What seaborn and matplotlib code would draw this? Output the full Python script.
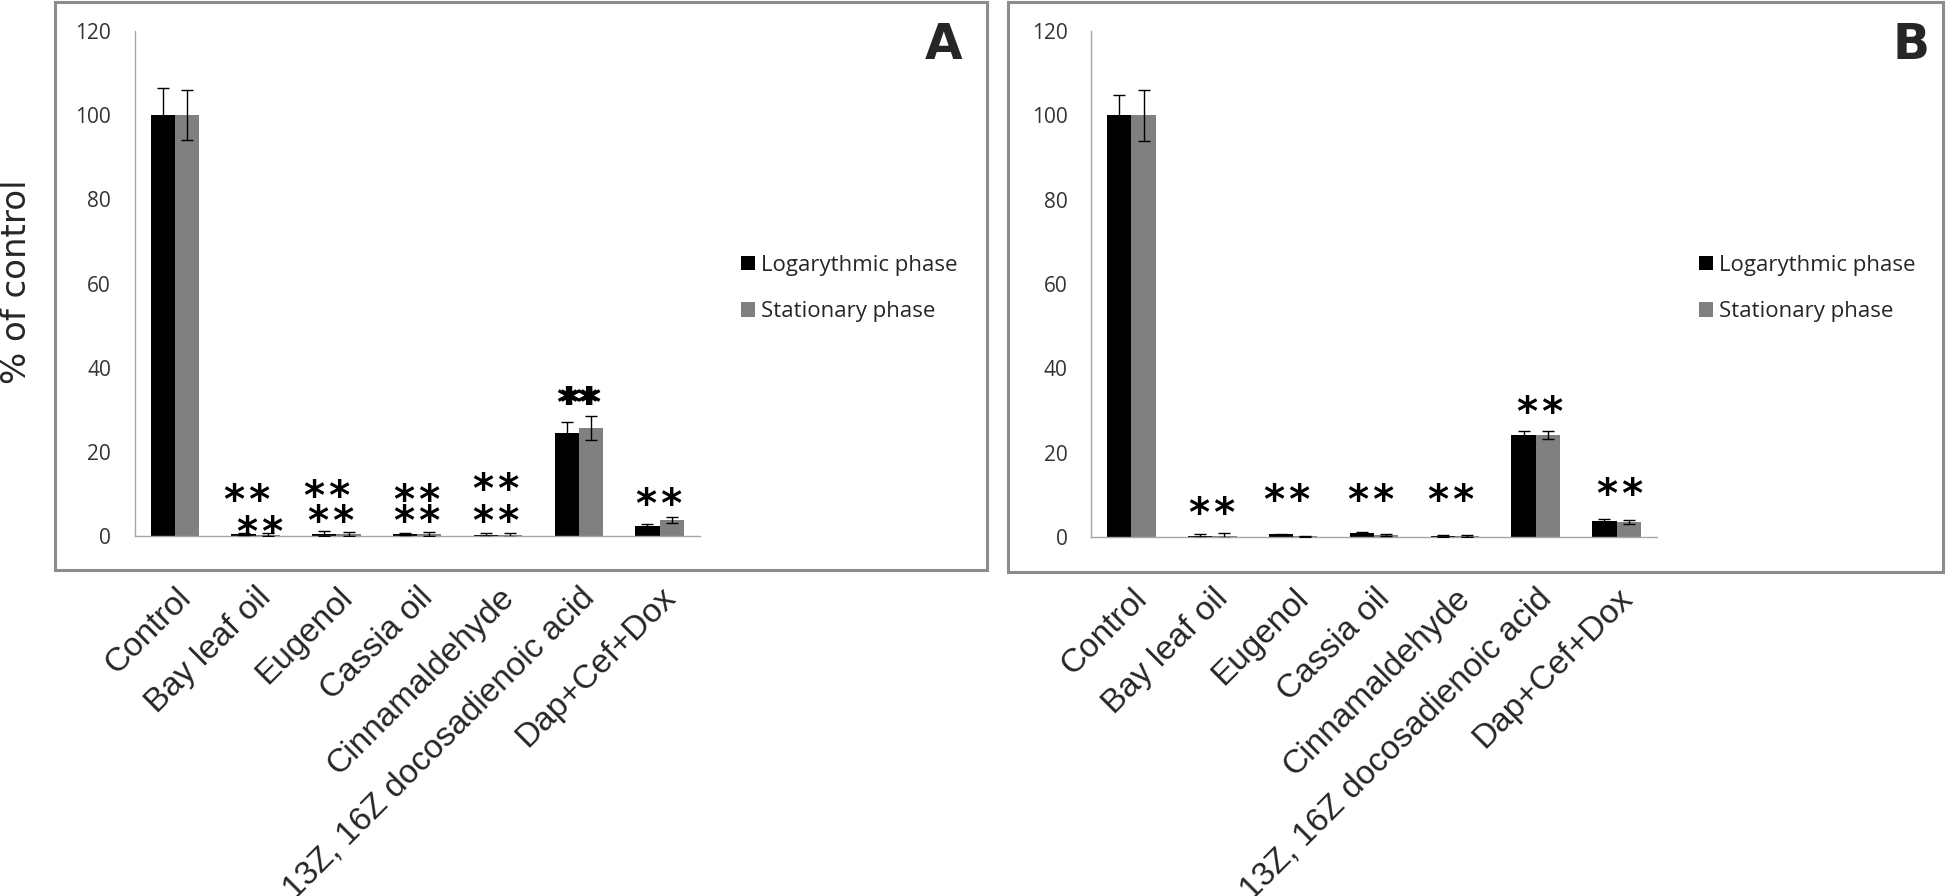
import numpy as np
import pandas as pd
import matplotlib
matplotlib.use("Agg")
import matplotlib.pyplot as plt
import matplotlib.transforms as mtransforms
from matplotlib.patches import Patch, Rectangle
import seaborn as sns

# ---------------- data ----------------
categories = ["Control", "Bay leaf oil", "Eugenol", "Cassia oil", "Cinnamaldehyde",
              "13Z, 16Z docosadienoic acid", "Dap+Cef+Dox"]
phases = ["Logarythmic phase", "Stationary phase"]

a_log = [100, 0.5, 0.5, 0.5, 0.2, 24.5, 2.4]
a_log_err = [6.5, 0.2, 0.6, 0.2, 0.5, 2.7, 0.45]
a_stat = [100, 0.3, 0.5, 0.5, 0.3, 25.7, 3.8]
a_stat_err = [5.9, 0.3, 0.4, 0.5, 0.5, 2.9, 0.6]

b_log = [100, 0.3, 0.6, 1.0, 0.3, 24.3, 3.7]
b_log_err = [4.8, 0.5, 0.2, 0.3, 0.2, 0.8, 0.6]
b_stat = [100, 0.3, 0.2, 0.5, 0.3, 24.2, 3.6]
b_stat_err = [6.0, 0.6, 0.1, 0.3, 0.2, 1.0, 0.5]

# significance marks: (category index, x shift, height, heavy)
a_marks = [(1, -0.11, 11.1, False), (1, 0.05, 3.4, False),
           (2, -0.11, 11.9, False), (2, -0.06, 6.0, False),
           (3, 0.0, 10.9, False), (3, 0.0, 6.0, False),
           (4, -0.02, 13.7, False), (4, -0.02, 6.0, False),
           (5, 0.0, 34.0, True), (6, 0.0, 10.1, False)]
b_marks = [(1, 0.0, 8.2, False), (2, -0.07, 11.2, False), (3, -0.03, 11.2, False),
           (4, -0.05, 11.2, False), (5, 0.05, 32.1, False), (6, 0.04, 12.7, False)]

yticks = [0, 20, 40, 60, 80, 100, 120]

# ---------------- style ----------------
sns.set_theme(style="white")
plt.rcParams['font.family'] = ['DejaVu Sans']

W, H = 1946, 896
fig = plt.figure(figsize=(W / 100, H / 100), dpi=100)
fig.patch.set_facecolor("white")

BLACK = "#000000"
GRAY = "#808080"
AXC = "#a6a6a6"

def px(x, y):
    return x / W, 1 - y / H

def draw_panel(left, right, top, bottom, log, log_err, stat, stat_err, marks,
               letter, letter_xy, legend_x, frame):
    ax = fig.add_axes([left / W, 1 - bottom / H, (right - left) / W, (bottom - top) / H])
    df = pd.DataFrame({
        "Treatment": categories * 2,
        "Phase": [phases[0]] * len(categories) + [phases[1]] * len(categories),
        "Value": list(log) + list(stat),
    })
    sns.barplot(data=df, x="Treatment", y="Value", hue="Phase", order=categories,
                hue_order=phases, palette=[BLACK, GRAY], width=0.6, errorbar=None,
                saturation=1, linewidth=0, legend=False, ax=ax)
    for cont, errs in zip(ax.containers, [log_err, stat_err]):
        xs = [b.get_x() + b.get_width() / 2 for b in cont]
        ys = [b.get_height() for b in cont]
        ax.errorbar(xs, ys, yerr=errs, fmt="none", ecolor="black", elinewidth=1.0,
                    capsize=4.2, capthick=1.0, zorder=5)
    ax.set_xlim(-0.5, len(categories) - 0.5)
    ax.set_ylim(0, 120)
    ax.set_yticks(yticks)
    ax.set_yticklabels([str(t) for t in yticks], fontsize=15, family=["Open Sans", "DejaVu Sans"],
                       color="#333333")
    ax.set_xticks(range(len(categories)))
    ax.set_xticklabels(categories, rotation=45, ha="right", va="top", rotation_mode="anchor",
                       fontsize=24, family=["Liberation Sans", "DejaVu Sans"])
    ax.tick_params(axis="x", which="major", length=0, pad=33)
    ax.set_xticks(np.arange(-0.5, len(categories), 1.0), minor=True)
    ax.tick_params(axis="x", which="minor", length=6, width=1.0, color=AXC, direction="out")
    ax.tick_params(axis="y", which="major", length=6, width=1.0, color=AXC, direction="out", pad=11)
    ax.set_xlabel("")
    ax.set_ylabel("")
    for s in ["top", "right"]:
        ax.spines[s].set_visible(False)
    for s in ["left", "bottom"]:
        ax.spines[s].set_color(AXC)
        ax.spines[s].set_linewidth(1.0)
    ax.patch.set_alpha(0)
    # significance marks
    fs = 29
    for (i, dx, hgt, heavy) in marks:
        shifts = [-1.2, 1.2] if heavy else [0.0]
        label = "**" if heavy else "*\u200a*"
        for sx in shifts:
            tr = mtransforms.offset_copy(ax.transData, fig=fig, x=sx, y=-0.58 * fs,
                                         units="points")
            ax.text(i + dx, hgt, label, transform=tr, ha="center", va="baseline",
                    fontsize=fs, fontweight="bold", color="black", zorder=6)
    # panel letter
    fig.text(*px(*letter_xy), letter, fontsize=35, fontweight="bold", ha="center", va="center")
    # legend
    handles = [Patch(facecolor=BLACK, edgecolor="none"), Patch(facecolor=GRAY, edgecolor="none")]
    fig.legend(handles, phases, loc="upper left", bbox_to_anchor=px(legend_x, 255),
               frameon=False, borderpad=0, borderaxespad=0, handlelength=0.63,
               handleheight=0.63, handletextpad=0.26, labelspacing=1.14,
               prop={"family": ["Open Sans", "DejaVu Sans"], "size": 16})
    # frame
    fx0, fy0, fx1, fy1 = frame
    rect = Rectangle((fx0 / W, 1 - fy1 / H), (fx1 - fx0) / W, (fy1 - fy0) / H,
                     transform=fig.transFigure, fill=False, edgecolor="#8c8c8c",
                     linewidth=2.2, zorder=0)
    fig.patches.append(rect)
    return ax

axA = draw_panel(134.5, 700, 31, 536, a_log, a_log_err, a_stat, a_stat_err, a_marks,
                 "A", (944, 45), 741, (55, 2, 987, 570))
axB = draw_panel(1091, 1657, 31, 537, b_log, b_log_err, b_stat, b_stat_err, b_marks,
                 "B", (1911, 45), 1699, (1008, 2, 1943, 572))

fig.text(*px(17, 282), "% of control", rotation=90, fontsize=24.5, ha="center", va="center")

fig.savefig("out.png", dpi=100)
